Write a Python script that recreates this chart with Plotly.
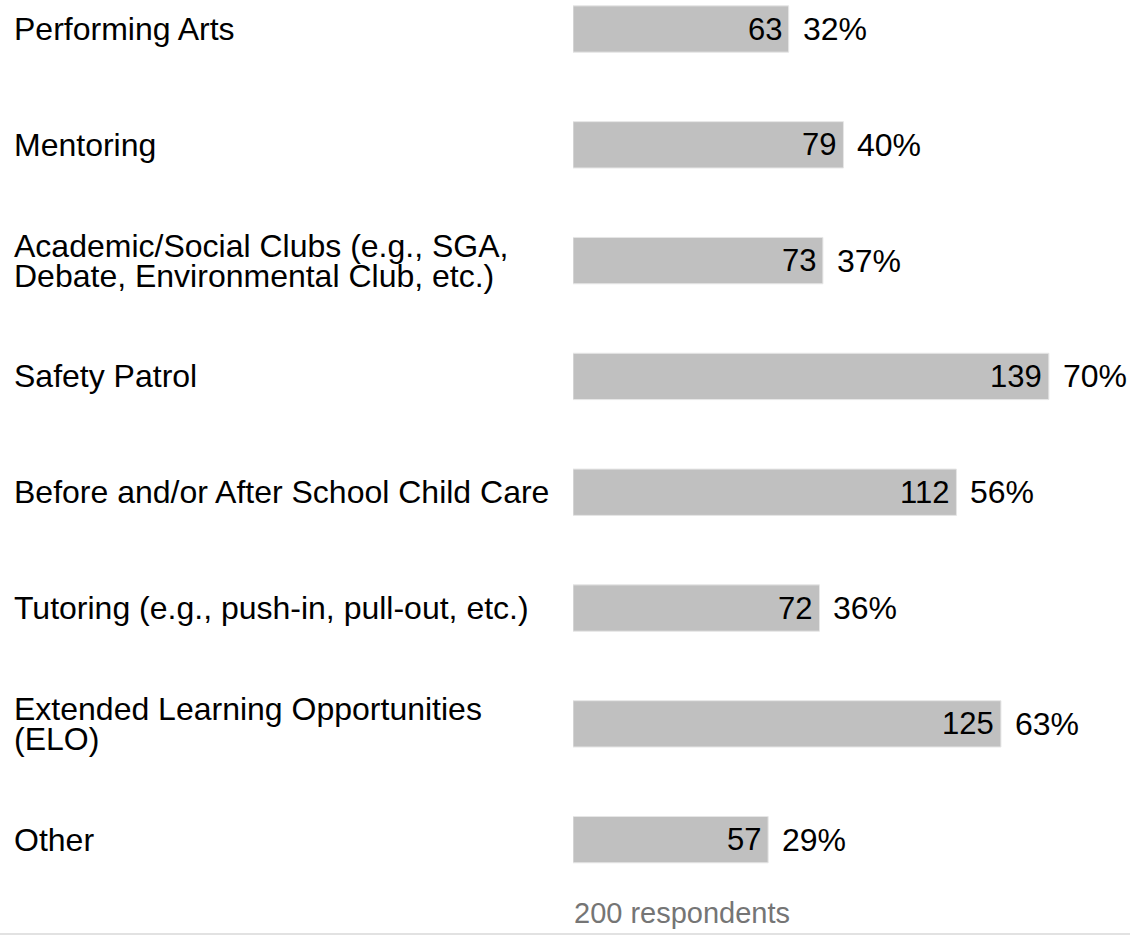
import plotly.graph_objects as go

categories = [
    "Performing Arts",
    "Mentoring",
    "Academic/Social Clubs (e.g., SGA,\nDebate, Environmental Club, etc.)",
    "Safety Patrol",
    "Before and/or After School Child Care",
    "Tutoring (e.g., push-in, pull-out, etc.)",
    "Extended Learning Opportunities\n(ELO)",
    "Other",
]
counts = [63, 79, 73, 139, 112, 72, 125, 57]
percents = ["32%", "40%", "37%", "70%", "56%", "36%", "63%", "29%"]
respondents_note = "200 respondents"

W, H = 1130, 936
ML = 573
FONT = "Liberation Sans, Arial, sans-serif"
LINE = 30
idx = list(range(len(categories)))

fig = go.Figure()
fig.add_trace(go.Bar(
    x=counts, y=idx, orientation="h",
    width=0.4,
    marker=dict(color="#c0c0c0", line=dict(color="#e6e6e6", width=1)),
    hoverinfo="skip",
))

annotations = []
for i, (lab, pct, c) in enumerate(zip(categories, percents, counts)):
    lines = lab.split("\n")
    n = len(lines)
    for k, ln in enumerate(lines):
        annotations.append(dict(
            x=0, xref="paper", y=i, yref="y",
            xanchor="left", yanchor="middle",
            xshift=-(ML - 12), yshift=(n - 1) * LINE / 2 - k * LINE,
            text=ln, showarrow=False, align="left",
            font=dict(family=FONT, size=32, color="#000000"),
        ))
    annotations.append(dict(
        x=c, xref="x", y=i, yref="y",
        xanchor="right", yanchor="middle", xshift=-5,
        text=str(c), showarrow=False,
        font=dict(family=FONT, size=31, color="#000000"),
    ))
    annotations.append(dict(
        x=c, xref="x", y=i, yref="y",
        xanchor="left", yanchor="middle", xshift=12,
        text=pct, showarrow=False,
        font=dict(family=FONT, size=32, color="#000000"),
    ))

annotations.append(dict(
    x=0, xref="paper", y=0, yref="paper",
    xanchor="left", yanchor="bottom", xshift=-1, yshift=5,
    text=respondents_note, showarrow=False,
    font=dict(family=FONT, size=29, color="#757575"),
))

fig.update_layout(
    width=W, height=H,
    margin=dict(l=ML, r=0, t=0, b=0, pad=0),
    paper_bgcolor="white", plot_bgcolor="white",
    showlegend=False,
    xaxis=dict(range=[0, 162.7], visible=False, fixedrange=True),
    yaxis=dict(range=[7.832, -0.2504], visible=False, fixedrange=True),
    annotations=annotations,
    shapes=[dict(type="line", xref="paper", yref="paper",
                 x0=-ML / (W - ML) - 0.02, x1=1.02, y0=2 / H, y1=2 / H,
                 line=dict(color="#d9d9d9", width=1.5))],
)

fig.write_html("out.html", config={"displayModeBar": False},
               post_script="document.body.style.margin='0';")
